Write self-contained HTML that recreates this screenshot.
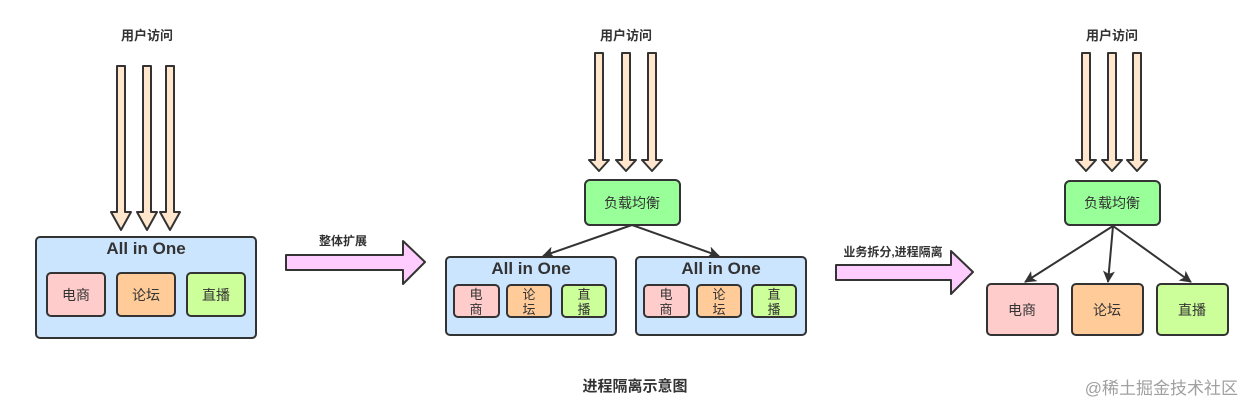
<!DOCTYPE html>
<html><head><meta charset="utf-8"><style>
body{margin:0;background:#fff;}
svg text{font-family:"Liberation Sans","Noto Sans CJK SC",sans-serif;fill:#333;}
</style></head><body>
<svg width="1247" height="413" viewBox="0 0 1247 413" xmlns="http://www.w3.org/2000/svg">
<defs>
<marker id="ah" markerWidth="12" markerHeight="12" refX="11" refY="6" orient="auto" markerUnits="userSpaceOnUse">
<path d="M0,0 L12,6 L0,12 L3,6 z" fill="#333"/></marker>
</defs>
<g stroke="#333" stroke-width="2" stroke-linejoin="round" fill="#ffe6cc">
<path d="M117,66 H125 V212 H131 L121,230 L111,212 H117 Z"/>
<path d="M143,66 H151 V212 H157 L147,230 L137,212 H143 Z"/>
<path d="M166,66 H174 V212 H180 L170,230 L160,212 H166 Z"/>
<path d="M595,53 H603 V160 H609 L599,171 L589,160 H595 Z"/>
<path d="M622,53 H630 V160 H636 L626,171 L616,160 H622 Z"/>
<path d="M648,53 H656 V160 H662 L652,171 L642,160 H648 Z"/>
<path d="M1082,53 H1090 V160 H1096 L1086,171 L1076,160 H1082 Z"/>
<path d="M1108,53 H1116 V160 H1122 L1112,171 L1102,160 H1108 Z"/>
<path d="M1133,53 H1141 V160 H1147 L1137,171 L1127,160 H1133 Z"/>
</g>
<text x="147" y="40" font-size="13" font-weight="bold" text-anchor="middle">用户访问</text>
<text x="626" y="40" font-size="13" font-weight="bold" text-anchor="middle">用户访问</text>
<text x="1112" y="40" font-size="13" font-weight="bold" text-anchor="middle">用户访问</text>

<rect x="36" y="237" width="220" height="101" rx="4" fill="#cce5ff" stroke="#333" stroke-width="2"/>
<text x="146" y="254" font-size="17" font-weight="bold" text-anchor="middle">All in One</text>
<rect x="47" y="273" width="58" height="43" rx="4" fill="#ffcccc" stroke="#333" stroke-width="2"/>
<rect x="117" y="273" width="58" height="43" rx="4" fill="#ffcc99" stroke="#333" stroke-width="2"/>
<rect x="187" y="273" width="58" height="43" rx="4" fill="#ccff99" stroke="#333" stroke-width="2"/>
<text x="76" y="300" font-size="14" text-anchor="middle">电商</text>
<text x="146" y="300" font-size="14" text-anchor="middle">论坛</text>
<text x="216" y="300" font-size="14" text-anchor="middle">直播</text>

<path d="M286,255 H403 V241 L425,262 L403,284 V270 H286 Z" fill="#ffccff" stroke="#333" stroke-width="2" stroke-linejoin="round"/>
<text x="343" y="245" font-size="12" font-weight="bold" text-anchor="middle">整体扩展</text>

<rect x="585" y="180" width="95" height="45" rx="5" fill="#99ff99" stroke="#333" stroke-width="2"/>
<text x="632" y="208" font-size="14" text-anchor="middle">负载均衡</text>
<line x1="632" y1="225" x2="543" y2="256" stroke="#333" stroke-width="2" marker-end="url(#ah)"/>
<line x1="632" y1="225" x2="719" y2="256" stroke="#333" stroke-width="2" marker-end="url(#ah)"/>

<g>
<rect x="446" y="257" width="170" height="78" rx="4" fill="#cce5ff" stroke="#333" stroke-width="2"/>
<text x="531" y="274" font-size="17" font-weight="bold" text-anchor="middle">All in One</text>
<rect x="454" y="285" width="45" height="32" rx="4" fill="#ffcccc" stroke="#333" stroke-width="2"/>
<rect x="507" y="285" width="44" height="32" rx="4" fill="#ffcc99" stroke="#333" stroke-width="2"/>
<rect x="562" y="285" width="44" height="32" rx="4" fill="#ccff99" stroke="#333" stroke-width="2"/>
<text x="476" y="299" font-size="13" text-anchor="middle">电</text><text x="476" y="314" font-size="13" text-anchor="middle">商</text>
<text x="529" y="299" font-size="13" text-anchor="middle">论</text><text x="529" y="314" font-size="13" text-anchor="middle">坛</text>
<text x="584" y="299" font-size="13" text-anchor="middle">直</text><text x="584" y="314" font-size="13" text-anchor="middle">播</text>
</g>
<g transform="translate(190,0)">
<rect x="446" y="257" width="170" height="78" rx="4" fill="#cce5ff" stroke="#333" stroke-width="2"/>
<text x="531" y="274" font-size="17" font-weight="bold" text-anchor="middle">All in One</text>
<rect x="454" y="285" width="45" height="32" rx="4" fill="#ffcccc" stroke="#333" stroke-width="2"/>
<rect x="507" y="285" width="44" height="32" rx="4" fill="#ffcc99" stroke="#333" stroke-width="2"/>
<rect x="562" y="285" width="44" height="32" rx="4" fill="#ccff99" stroke="#333" stroke-width="2"/>
<text x="476" y="299" font-size="13" text-anchor="middle">电</text><text x="476" y="314" font-size="13" text-anchor="middle">商</text>
<text x="529" y="299" font-size="13" text-anchor="middle">论</text><text x="529" y="314" font-size="13" text-anchor="middle">坛</text>
<text x="584" y="299" font-size="13" text-anchor="middle">直</text><text x="584" y="314" font-size="13" text-anchor="middle">播</text>
</g>

<path d="M836,265 H951 V251 L973,272 L951,294 V280 H836 Z" fill="#ffccff" stroke="#333" stroke-width="2" stroke-linejoin="round"/>
<text x="893" y="256" font-size="12" font-weight="bold" text-anchor="middle">业务拆分,进程隔离</text>

<rect x="1065" y="181" width="95" height="44" rx="5" fill="#99ff99" stroke="#333" stroke-width="2"/>
<text x="1112" y="208" font-size="14" text-anchor="middle">负载均衡</text>
<line x1="1113" y1="226" x2="1025" y2="282" stroke="#333" stroke-width="2" marker-end="url(#ah)"/>
<line x1="1113" y1="226" x2="1108" y2="282" stroke="#333" stroke-width="2" marker-end="url(#ah)"/>
<line x1="1113" y1="226" x2="1191" y2="282" stroke="#333" stroke-width="2" marker-end="url(#ah)"/>
<rect x="987" y="284" width="71" height="51" rx="4" fill="#ffcccc" stroke="#333" stroke-width="2"/>
<rect x="1072" y="284" width="71" height="51" rx="4" fill="#ffcc99" stroke="#333" stroke-width="2"/>
<rect x="1157" y="284" width="71" height="51" rx="4" fill="#ccff99" stroke="#333" stroke-width="2"/>
<text x="1022" y="315" font-size="14" text-anchor="middle">电商</text>
<text x="1107" y="315" font-size="14" text-anchor="middle">论坛</text>
<text x="1192" y="315" font-size="14" text-anchor="middle">直播</text>

<text x="635" y="391" font-size="15" font-weight="bold" text-anchor="middle">进程隔离示意图</text>
<text x="1238" y="394" font-size="17" text-anchor="end" style="fill:#a0a0a0">@稀土掘金技术社区</text>
</svg>
</body></html>
